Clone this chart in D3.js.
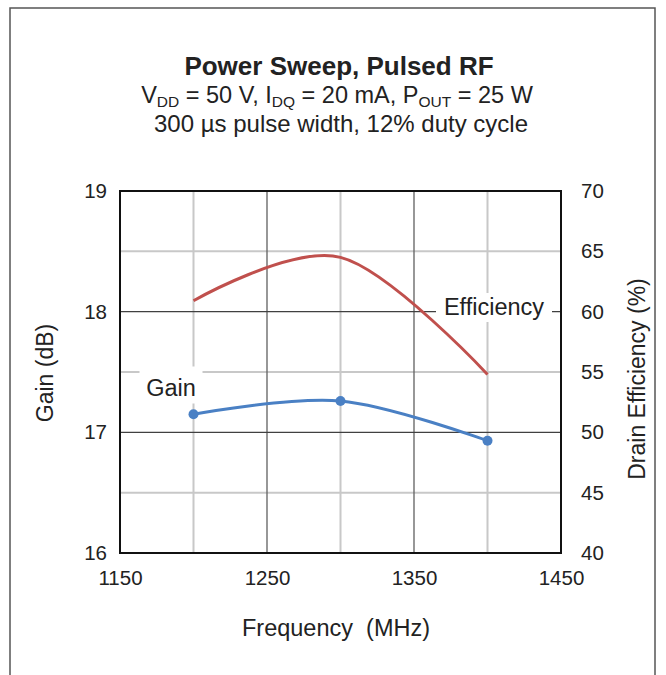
<!DOCTYPE html>
<html>
<head>
<meta charset="utf-8">
<script src="https://cdn.jsdelivr.net/npm/d3@7"></script>
<style>
  body { margin: 0; background: white; }
  svg text { font-family: "Liberation Sans", Arial, sans-serif; fill: #222; }
</style>
</head>
<body>
<div id="chart"></div>
<script>
// chart data
const freqs = [1200, 1300, 1400]
const gainDb = [17.15, 17.26, 16.93]
const drainEff = [60.9, 64.5, 54.8]

const xTicks = [1150, 1250, 1350, 1450]
const xMinorGrid = [1200, 1300, 1400]
const gainTicks = [16, 17, 18, 19]
const effTicks = [40, 45, 50, 55, 60, 65, 70]
const effMinorGrid = [45, 55, 65]

const W = 666, H = 675
const plot = { left: 120, right: 561, top: 191, bottom: 553 }

const svg = d3.select('#chart').append('svg')
  .attr('width', W).attr('height', H)

// outer frame (runs off the bottom of the picture)
svg.append('rect')
  .attr('x', 10).attr('y', 8).attr('width', 645).attr('height', H + 20)
  .attr('fill', 'none').attr('stroke', '#555').attr('stroke-width', 1.5)

const x = d3.scaleLinear().domain([1150, 1450]).range([plot.left, plot.right])
const yGain = d3.scaleLinear().domain([16, 19]).range([plot.bottom, plot.top])
const yEff = d3.scaleLinear().domain([40, 70]).range([plot.bottom, plot.top])

// title block
const title = svg.append('g').attr('text-anchor', 'middle')
title.append('text').attr('x', 339).attr('y', 75)
  .attr('font-size', 26).attr('font-weight', 'bold').text('Power Sweep, Pulsed RF')

const sub = title.append('text').attr('x', 337).attr('y', 103).attr('font-size', 23.5)
const parts = [['V', 0], ['DD', 1], [' = 50 V, I', 0], ['DQ', 1], [' = 20 mA, P', 0], ['OUT', 1], [' = 25 W', 0]]
let shifted = false
parts.forEach(p => {
  let ts = sub.append('tspan').text(p[0])
  if (p[1] && !shifted) { ts.attr('dy', 4).attr('font-size', 15.5); shifted = true }
  else if (p[1]) { ts.attr('font-size', 15.5) }
  else if (shifted) { ts.attr('dy', -4); shifted = false }
})
title.append('text').attr('x', 341).attr('y', 132)
  .attr('font-size', 24).text('300 µs pulse width, 12% duty cycle')

// grid
const grid = svg.append('g')
grid.selectAll('line.vminor').data(xMinorGrid).enter().append('line')
  .attr('x1', d => x(d)).attr('x2', d => x(d)).attr('y1', plot.top).attr('y2', plot.bottom)
  .attr('stroke', '#c8c8c8').attr('stroke-width', 2)
grid.selectAll('line.hminor').data(effMinorGrid).enter().append('line')
  .attr('y1', d => yEff(d)).attr('y2', d => yEff(d)).attr('x1', plot.left).attr('x2', plot.right)
  .attr('stroke', '#c8c8c8').attr('stroke-width', 2)
grid.selectAll('line.vmajor').data(xTicks.slice(1, -1)).enter().append('line')
  .attr('x1', d => x(d)).attr('x2', d => x(d)).attr('y1', plot.top).attr('y2', plot.bottom)
  .attr('stroke', '#606060').attr('stroke-width', 1.3)
grid.selectAll('line.hmajor').data(gainTicks.slice(1, -1)).enter().append('line')
  .attr('y1', d => yGain(d)).attr('y2', d => yGain(d)).attr('x1', plot.left).attr('x2', plot.right)
  .attr('stroke', '#404040').attr('stroke-width', 1.3)

// series labels with white boxes covering the grid
const labels = [
  { text: 'Gain', x: 171, y: 385, base: 396, w: 63, h: 37 },
  { text: 'Efficiency', x: 494, y: 307.5, base: 315, w: 116, h: 29 }
]
labels.forEach(l => {
  svg.append('rect').attr('x', l.x - l.w / 2).attr('y', l.y - l.h / 2)
    .attr('width', l.w).attr('height', l.h).attr('fill', 'white')
  svg.append('text').attr('x', l.x).attr('y', l.base).attr('text-anchor', 'middle')
    .attr('font-size', 23.5).text(l.text)
})

// series
const smooth = d3.curveCardinal.tension(0)
const effLine = d3.line().x((d, i) => x(freqs[i])).y(d => yEff(d)).curve(smooth)
const gainLine = d3.line().x((d, i) => x(freqs[i])).y(d => yGain(d)).curve(smooth)

svg.append('path').datum(drainEff).attr('d', effLine)
  .attr('fill', 'none').attr('stroke', '#c0504d').attr('stroke-width', 3)
svg.append('path').datum(gainDb).attr('d', gainLine)
  .attr('fill', 'none').attr('stroke', '#4a80c4').attr('stroke-width', 3)
svg.selectAll('circle.gain').data(gainDb).enter().append('circle')
  .attr('cx', (d, i) => x(freqs[i])).attr('cy', d => yGain(d)).attr('r', 5)
  .attr('fill', '#4a80c4')

// plot frame
svg.append('rect').attr('x', plot.left).attr('y', plot.top)
  .attr('width', plot.right - plot.left).attr('height', plot.bottom - plot.top)
  .attr('fill', 'none').attr('stroke', '#111').attr('stroke-width', 2)

// axes (labels only, no tick marks)
const fmt = d3.format('d')
const axL = svg.append('g').attr('transform', `translate(${plot.left - 13},0)`)
  .call(d3.axisLeft(yGain).tickValues(gainTicks).tickSize(0).tickPadding(0).tickFormat(fmt))
const axR = svg.append('g').attr('transform', `translate(${plot.right + 20},0)`)
  .call(d3.axisRight(yEff).tickValues(effTicks).tickSize(0).tickPadding(0).tickFormat(fmt))
const axB = svg.append('g').attr('transform', `translate(0,${plot.bottom + 17})`)
  .call(d3.axisBottom(x).tickValues(xTicks).tickSize(0).tickPadding(0).tickFormat(fmt))
;[axL, axR, axB].forEach(a => {
  a.select('.domain').remove()
  a.selectAll('text').attr('font-size', 20.5)
    .attr('font-family', '"Liberation Sans", Arial, sans-serif').attr('fill', '#222')
})

// axis titles
svg.append('text').attr('transform', 'translate(53,373) rotate(-90)')
  .attr('text-anchor', 'middle').attr('font-size', 23).text('Gain (dB)')
svg.append('text').attr('transform', 'translate(645,379) rotate(-90)')
  .attr('text-anchor', 'middle').attr('font-size', 23).text('Drain Efficiency (%)')
svg.append('text').attr('x', 336).attr('y', 636)
  .attr('text-anchor', 'middle').attr('font-size', 23.5).attr('xml:space', 'preserve').text('Frequency  (MHz)')
</script>
</body>
</html>
